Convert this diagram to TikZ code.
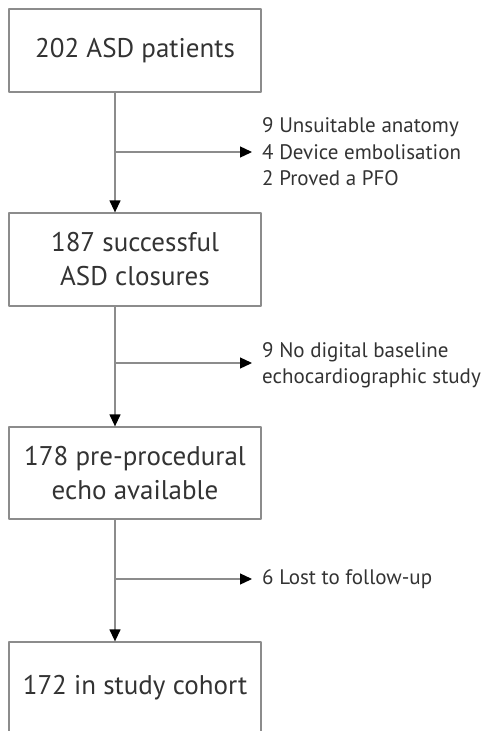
\documentclass[tikz,border=0pt]{standalone}
\usepackage{fontspec}
\setmainfont{PT Sans}
\usepackage{xcolor}
\usetikzlibrary{arrows.meta}
\definecolor{linegray}{HTML}{8C8C8C}
\definecolor{textgray}{HTML}{333333}

\begin{document}
\begin{tikzpicture}[x=1pt,y=-1pt,>={Triangle[length=12pt,width=11pt,color=black]},line join=round,
  box/.style={draw=linegray,line width=1.3pt,minimum width=252pt,inner sep=0pt,align=center,
    text=textgray,font=\fontsize{27}{34}\selectfont},
  note/.style={anchor=west,align=left,inner xsep=10pt,inner ysep=0pt,text=textgray,
    font=\fontsize{21}{26.5}\selectfont},
  flow/.style={draw=linegray,line width=1.3pt}]
  \clip (0,0) rectangle (500,731);
  % boxes
  \node[box,minimum height=83pt] (ptn) at (135,50.5) {202 ASD patients};
  \node[box,minimum height=93pt] (cls) at (135,259.5) {187 successful\\ASD closures};
  \node[box,minimum height=92pt] (ech) at (135,473) {178 pre-procedural\\echo available};
  \node[box,minimum height=92pt] (coh) at (135,688) {172 in study cohort};
  % exclusions
  \node[note] (ex1) at (252,152) {9 Unsuitable anatomy\\4 Device embolisation\\2 Proved a PFO};
  \node[note] (ex2) at (252,365) {9 No digital baseline\\echocardiographic study};
  \node[note] (ex3) at (252,579) {6 Lost to follow-up};
  \coordinate (spine) at (115,0);
  \coordinate (b1) at (115,152);
  \coordinate (b2) at (115,363);
  \coordinate (b3) at (115,579);
  \draw[flow,->] (ptn.south -| spine) -- (cls.north -| spine);
  \draw[flow,->] (cls.south -| spine) -- (ech.north -| spine);
  \draw[flow,->] (ech.south -| spine) -- (coh.north -| spine);
  \draw[flow,->] (b1) -- (b1 -| ex1.west);
  \draw[flow,->] (b2) -- (b2 -| ex2.west);
  \draw[flow,->] (b3) -- (b3 -| ex3.west);
\end{tikzpicture}
\end{document}
